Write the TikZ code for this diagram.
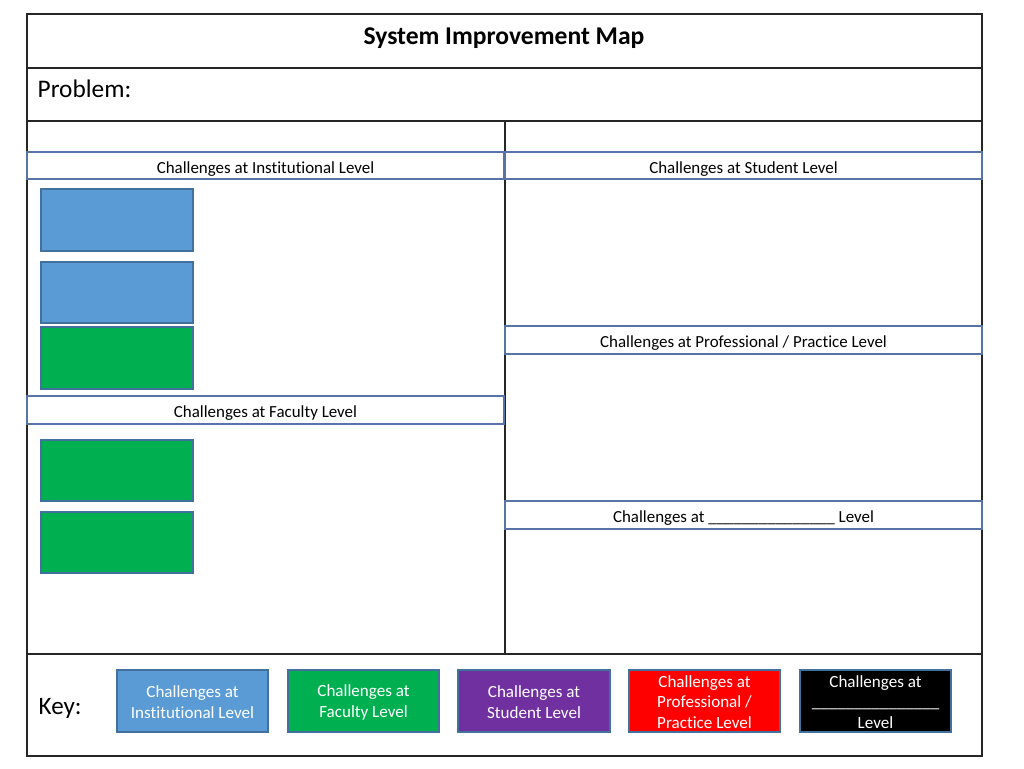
\documentclass[tikz,border=0pt]{standalone}
\usepackage{fontspec}
\setmainfont{Carlito}[Ligatures={NoCommon}]
\begin{document}
\begin{tikzpicture}[x=0.75pt,y=-0.75pt,
  frame/.style={draw=black!85,line width=1pt},
  hdrtext/.style={font=\fontsize{12.7}{14}\selectfont},
  cbox/.style={draw=boxborder,line width=0.8pt},
  keytext/.style={text=white,font=\fontsize{12.8}{15.6}\selectfont,align=center}]
\definecolor{instblue}{HTML}{5B9BD5}
\definecolor{facgreen}{HTML}{00B050}
\definecolor{stupurple}{HTML}{7030A0}
\definecolor{boxborder}{HTML}{41719C}
\definecolor{hdrborder}{HTML}{5873A8}
\tikzset{hdr/.style={draw=hdrborder,line width=0.9pt,fill=white}}
\useasboundingbox (0,0) rectangle (1024,768);
% outer frame and rows
\draw[frame] (27,14) rectangle (982,756);
\draw[frame] (27,68) -- (982,68);
\draw[frame] (27,121) -- (982,121);
\draw[frame] (505,121) -- (505,654);
\draw[frame] (27,654) -- (982,654);
\node[font=\bfseries\fontsize{19.2}{22}\selectfont] (title) at (504,38) {System Improvement Map};
\node[font=\fontsize{19}{22}\selectfont,anchor=west] (problem) at (33,89) {Problem:};
% headers
\draw[hdr] (27,152) rectangle (504,179);
\node[hdrtext] (hinst) at (265.5,169) {Challenges at Institutional Level};
\draw[hdr] (505,152) rectangle (982,179);
\node[hdrtext] (hstu) at (743.5,169) {Challenges at Student Level};
\draw[hdr] (27,396) rectangle (504,424);
\node[hdrtext] (hfac) at (265.5,413) {Challenges at Faculty Level};
\draw[hdr] (505,326) rectangle (982,354);
\node[hdrtext] (hpro) at (743.5,343) {Challenges at Professional / Practice Level};
\draw[hdr] (505,501) rectangle (982,529);
\node[hdrtext] (hblank) at (743.5,518) {Challenges at \_\_\_\_\_\_\_\_\_\_\_\_\_\_\_ Level};
% content boxes
\draw[cbox,fill=instblue] (41,189) rectangle (193,251);
\draw[cbox,fill=instblue] (41,262) rectangle (193,323);
\draw[cbox,fill=facgreen] (41,327) rectangle (193,389);
\draw[cbox,fill=facgreen] (41,440) rectangle (193,501);
\draw[cbox,fill=facgreen] (41,512) rectangle (193,573);
% key
\node[font=\fontsize{18.8}{22}\selectfont,anchor=west] (key) at (34,708) {Key:};
\draw[cbox,fill=instblue] (117,670) rectangle (268,732);
\node[keytext] (k1) at (192.5,702.5) {Challenges at\\Institutional Level};
\draw[cbox,fill=facgreen] (288,670) rectangle (439,732);
\node[keytext] (k2) at (363.5,702.5) {Challenges at\\Faculty Level};
\draw[cbox,fill=stupurple] (458,670) rectangle (610,732);
\node[keytext] (k3) at (534,702.5) {Challenges at\\Student Level};
\draw[cbox,fill=red] (629,670) rectangle (780,732);
\node[keytext] (k4) at (704.5,702) {Challenges at\\Professional /\\Practice Level};
\draw[cbox,fill=black] (800,670) rectangle (951,732);
\node[keytext] (k5) at (875.5,702) {Challenges at\\\_\_\_\_\_\_\_\_\_\_\_\_\_\_\_\\Level};
\end{tikzpicture}
\end{document}
